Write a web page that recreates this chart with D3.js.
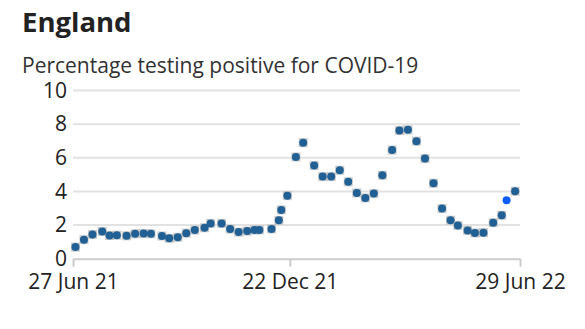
<!DOCTYPE html>
<html><head><meta charset="utf-8">
<script src="https://cdn.jsdelivr.net/npm/d3@7"></script>
<style>
html,body{margin:0;padding:0;background:#fff;}
svg{display:block;font-family:"Open Sans",sans-serif;}
</style></head>
<body>
<svg id="chart" width="585" height="329"></svg>
<script>
// Data (day offsets from 27 Jun 2021)
const startDate = "2021-06-27";
const dayOffsets = [2,9,16,24,30,36,44,51,58,64,73,79,86,93,100,108,113,122,129,136,143,149,153,163,169,171,176,183,189,198,205,212,219,226,233,240,247,254,262,268,275,282,289,296,303,310,316,324,330,337,345,352,363];
const values = [0.69,1.13,1.44,1.62,1.38,1.40,1.36,1.48,1.50,1.48,1.35,1.21,1.27,1.52,1.70,1.84,2.10,2.10,1.76,1.58,1.64,1.71,1.71,1.77,2.28,2.90,3.75,6.05,6.90,5.54,4.88,4.88,5.26,4.57,3.91,3.61,3.87,4.96,6.46,7.62,7.66,6.99,5.95,4.49,2.98,2.29,1.98,1.68,1.53,1.55,2.14,2.58,4.01];
const ciHalf = [0.08,0.1,0.1,0.1,0.1,0.1,0.1,0.1,0.1,0.1,0.1,0.1,0.1,0.1,0.1,0.1,0.12,0.12,0.1,0.1,0.1,0.1,0.1,0.1,0.12,0.15,0.18,0.24,0.26,0.22,0.2,0.2,0.2,0.18,0.16,0.15,0.16,0.2,0.24,0.27,0.27,0.26,0.22,0.18,0.14,0.12,0.1,0.1,0.1,0.1,0.12,0.14,0.18];
const highlightOffset = [356];
const highlightValue = [3.47];
const yTicks = [0,2,4,6,8,10];
const xTickOffsets = [0,178,367];
const xTickLabels = ["27 Jun 21","22 Dec 21","29 Jun 22"];

const parse = d3.timeParse("%Y-%m-%d");
const t0 = parse(startDate);
const toDate = o => d3.timeDay.offset(t0, o);

const svg = d3.select("#chart");
const mLeft = 73, mRight = 520, mTop = 90.5, mBottom = 258.7;

const x = d3.scaleTime().domain([toDate(0), toDate(367)]).range([mLeft, mRight]);
const y = d3.scaleLinear().domain([0,10]).range([mBottom, mTop]);

svg.append("text").attr("x",22).attr("y",32).attr("font-size",27.5).attr("font-weight",700).attr("fill","#222").text("England");
svg.append("text").attr("x",22).attr("y",73).attr("font-size",21).attr("fill","#323132").text("Percentage testing positive for COVID-19");

// gridlines
svg.append("g").selectAll("line").data(yTicks.filter(d=>d>0)).join("line")
  .attr("x1",mLeft).attr("x2",mRight).attr("y1",d=>y(d)).attr("y2",d=>y(d))
  .attr("stroke","#e2e2e2").attr("stroke-width",2);

// y axis labels
const yAxis = d3.axisLeft(y).tickValues(yTicks).tickSize(0).tickPadding(6);
const gy = svg.append("g").attr("transform",`translate(${mLeft},0)`).call(yAxis);
gy.select(".domain").remove();
gy.selectAll("text").attr("font-size",21).attr("fill","#222").attr("font-family","Open Sans, sans-serif");

// x axis
const xAxis = d3.axisBottom(x).tickValues(xTickOffsets.map(toDate))
  .tickFormat((d,i)=>xTickLabels[i]).tickSize(8).tickSizeOuter(0).tickPadding(7);
const gx = svg.append("g").attr("transform",`translate(0,${mBottom})`).call(xAxis);
gx.select(".domain").attr("stroke","#cccccc").attr("stroke-width",2);
gx.selectAll(".tick line").attr("stroke","#cccccc").attr("stroke-width",2);
gx.selectAll("text").attr("font-size",21).attr("fill","#222").attr("font-family","Open Sans, sans-serif");

// CI rects
svg.append("g").selectAll("rect").data(values).join("rect")
  .attr("x",(d,i)=>x(toDate(dayOffsets[i]))-4.5)
  .attr("width",9)
  .attr("y",(d,i)=>Math.min(y(d+ciHalf[i]), y(d)-4.5))
  .attr("height",(d,i)=>Math.max(y(d-ciHalf[i])-y(d+ciHalf[i]),9))
  .attr("fill","#bdbdbd").attr("opacity",0.8);

// points
svg.append("g").selectAll("circle").data(values).join("circle")
  .attr("cx",(d,i)=>x(toDate(dayOffsets[i])))
  .attr("cy",d=>y(d))
  .attr("r",4)
  .attr("fill","#206095");

svg.append("g").selectAll("circle").data(highlightValue).join("circle")
  .attr("cx",(d,i)=>x(toDate(highlightOffset[i])))
  .attr("cy",d=>y(d))
  .attr("r",4)
  .attr("fill","#0f5cff");
</script>
</body></html>
